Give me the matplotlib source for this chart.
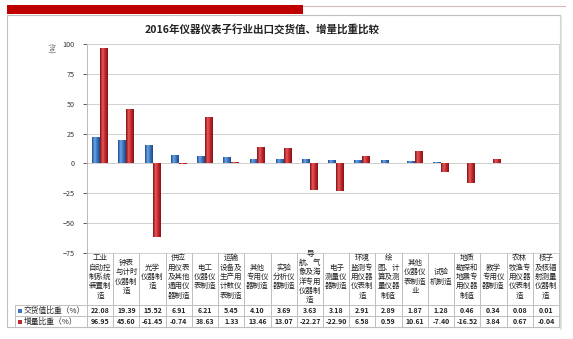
import numpy as np
import matplotlib.pyplot as plt
import matplotlib.transforms as mtransforms
from matplotlib.lines import Line2D
from matplotlib.patches import Rectangle
from matplotlib.colors import LinearSegmentedColormap

plt.rcParams['font.family'] = ['Noto Sans CJK SC', 'DejaVu Sans']

# Data
categories = ['工业\n自动控\n制系统\n装置制\n造', '钟表\n与计时\n仪器制\n造', '光学\n仪器制\n造',
              '供应\n用仪表\n及其他\n通用仪\n器制造', '电工\n仪器仪\n表制造',
              '运输\n设备及\n生产用\n计数仪\n表制造', '其他\n专用仪\n器制造', '实验\n分析仪\n器制造',
              '导\n航、气\n象及海\n洋专用\n仪器制\n造', '电子\n测量仪\n器制造',
              '环境\n监测专\n用仪器\n仪表制\n造', '绘\n图、计\n算及测\n量仪器\n制造',
              '其他\n仪器仪\n表制造\n业', '试验\n机制造', '地质\n勘探和\n地震专\n用仪器\n制造',
              '教学\n专用仪\n器制造', '农林\n牧渔专\n用仪器\n仪表制\n造', '核子\n及核辐\n射测量\n仪器制\n造']
value_share = [22.08, 19.39, 15.52, 6.91, 6.21, 5.45, 4.10, 3.69, 3.63, 3.18,
               2.91, 2.89, 1.87, 1.28, 0.46, 0.34, 0.08, 0.01]
growth_share = [96.95, 45.60, -61.45, -0.74, 38.63, 1.33, 13.46, 13.07, -22.27, -22.90,
                6.58, 0.59, 10.61, -7.40, -16.52, 3.84, 0.67, -0.04]
series_names = ['交货值比重（%）', '增量比重（%）']
title = '2016年仪器仪表子行业出口交货值、增量比重比较'

W, H = 573, 339
fig = plt.figure(figsize=(W / 100, H / 100), dpi=100)


def fx(px):
    return px / W


def fy(py):
    return 1 - py / H


# decorations at top and chart frame
fig.add_artist(Rectangle((fx(7), fy(14)), fx(303) - fx(7), fy(5) - fy(14),
                         transform=fig.transFigure, color='#C00000', lw=0))
fig.add_artist(Line2D([fx(303), fx(565)], [fy(5.5), fy(5.5)], transform=fig.transFigure,
                      color='#D8B8B8', lw=0.8))
fig.add_artist(Rectangle((fx(7), fy(327)), fx(560) - fx(7), fy(15) - fy(327),
                         transform=fig.transFigure, fill=False, ec='#BFBFBF', lw=0.8))
fig.add_artist(Line2D([fx(561), fx(561)], [fy(17), fy(329)], transform=fig.transFigure,
                      color='#DDDDDD', lw=1.2))

fig.text(fx(262), fy(29), title, ha='center', va='center', fontsize=7.6,
         fontweight='bold', color='#222222')

ax = fig.add_axes([fx(87), fy(253), fx(559) - fx(87), fy(44) - fy(253)])
x = np.arange(len(categories))
bw = 0.3
blue_bars = ax.bar(x - 0.15, value_share, bw, color='#3D76C0', zorder=3)
red_bars = ax.bar(x + 0.15, growth_share, bw, color='#C4282C', zorder=3)

# cylinder-like shading
grad = np.linspace(0, 1, 64).reshape(1, -1)
cmaps = {
    'b': LinearSegmentedColormap.from_list('b', ['#1F4C8A', '#6AA6E8', '#3A72BD', '#1E4A86']),
    'r': LinearSegmentedColormap.from_list('r', ['#7E1215', '#E8575A', '#C22629', '#80151A']),
}
for bars, key in ((blue_bars, 'b'), (red_bars, 'r')):
    for p in bars:
        x0, y0 = p.get_x(), p.get_y()
        w, h = p.get_width(), p.get_height()
        im = ax.imshow(grad, cmap=cmaps[key], aspect='auto', zorder=4,
                       extent=[x0, x0 + w, min(y0, y0 + h), max(y0, y0 + h)])
        im.set_clip_path(p)

ax.set_xlim(-0.5, len(categories) - 0.5)
ax.set_ylim(-75, 100)
ax.set_yticks(np.arange(-75, 101, 25))
ax.set_xticks([])
ax.tick_params(axis='y', labelsize=5.2, colors='#444444', length=3, width=0.6, pad=6)
for lbl in ax.get_yticklabels():
    lbl.set_color('#333333')
ax.grid(axis='y', color='#D0D0D0', lw=0.7, zorder=0)
for side in ['top', 'right', 'bottom']:
    ax.spines[side].set_color('#D0D0D0')
    ax.spines[side].set_linewidth(0.7)
ax.spines['left'].set_color('#BBBBBB')
ax.spines['left'].set_linewidth(0.7)
fig.text(fx(50), fy(48), '(%)', rotation=-90, ha='center', va='center', fontsize=5,
         color='#333333')

# data table below the plot
tr = mtransforms.blended_transform_factory(ax.transData, fig.transFigure)
line_kw = dict(color='#BFBFBF', lw=0.7, transform=tr)
left_x = -0.5 - (87 - 15) / 26.2
for i in range(len(categories) + 1):
    fig.add_artist(Line2D([i - 0.5, i - 0.5], [fy(253), fy(327)], **line_kw))
fig.add_artist(Line2D([left_x, left_x], [fy(305), fy(327)], **line_kw))
for yy in (305, 316, 327):
    fig.add_artist(Line2D([left_x, len(categories) - 0.5], [fy(yy), fy(yy)], **line_kw))

for i, name in enumerate(categories):
    fig.text(i, fy(277), name, transform=tr, ha='center', va='center', fontsize=5.4,
             linespacing=1.22, color='#222222')
    fig.text(i, fy(310.5), f'{value_share[i]:.2f}', transform=tr, ha='center', va='center',
             fontsize=5, fontweight='bold', color='#222222')
    fig.text(i, fy(321.5), f'{growth_share[i]:.2f}', transform=tr, ha='center', va='center',
             fontsize=5, fontweight='bold', color='#222222')

for yy, name, col in ((310.5, series_names[0], '#3D76C0'), (321.5, series_names[1], '#C4282C')):
    fig.add_artist(Rectangle((fx(18), fy(yy + 2)), fx(4), fy(yy - 2) - fy(yy + 2),
                             transform=fig.transFigure, color=col, lw=0))
    fig.text(fx(23.5), fy(yy), name, ha='left', va='center', fontsize=5.6, color='#222222')

fig.savefig('out.png', dpi=100)
